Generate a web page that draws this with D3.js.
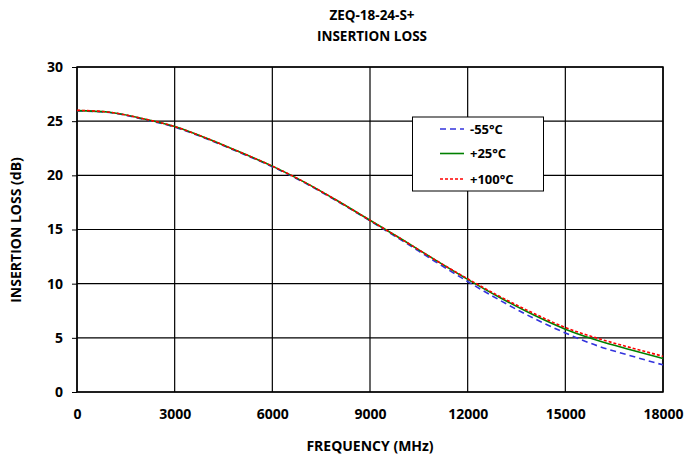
<!DOCTYPE html>
<html><head><meta charset="utf-8">
<script src="https://cdn.jsdelivr.net/npm/d3@7"></script>
<style>
body{margin:0;background:#fff;}
svg{display:block;}
text{font-family:"Open Sans","Liberation Sans",sans-serif;font-weight:bold;fill:#000;}
</style></head>
<body><svg id="chart" width="687" height="460"></svg>
<script>
const title1 = "ZEQ-18-24-S+";
const title2 = "INSERTION LOSS";
const xTitle = "FREQUENCY (MHz)";
const yTitle = "INSERTION LOSS (dB)";
const freq = [0,1000,2000,3000,4000,5000,6000,7000,8000,9000,10000,11000,12000,13000,14000,15000,16000,17000,18000];
const lossM55 = [25.95,25.8,25.2,24.45,23.35,22.1,20.8,19.3,17.6,15.8,13.95,12.05,10.2,8.45,6.85,5.45,4.25,3.35,2.5];
const lossP25 = [25.97,25.82,25.25,24.5,23.4,22.15,20.85,19.35,17.65,15.85,14.05,12.2,10.4,8.7,7.15,5.8,4.75,3.9,3.1];
const lossP100 = [26.0,25.82,25.25,24.5,23.4,22.15,20.85,19.35,17.65,15.85,14.05,12.2,10.45,8.8,7.3,5.95,4.95,4.1,3.3];
const seriesNames = ["-55°C","+25°C","+100°C"];
const xTicks = [0,3000,6000,9000,12000,15000,18000];
const yTicks = [0,5,10,15,20,25,30];

const svg = d3.select("#chart");
const L=77,R=663,T=67,B=392;
const x = d3.scaleLinear().domain([0,18000]).range([L,R]);
const y = d3.scaleLinear().domain([0,30]).range([B,T]);

// grid
svg.append("g").selectAll("line").data(xTicks).join("line")
  .attr("x1",d=>x(d)).attr("x2",d=>x(d)).attr("y1",T).attr("y2",B)
  .attr("stroke","#000").attr("stroke-width",1.2);
svg.append("g").selectAll("line").data(yTicks).join("line")
  .attr("x1",L).attr("x2",R).attr("y1",d=>y(d)).attr("y2",d=>y(d))
  .attr("stroke","#000").attr("stroke-width",1.2);
svg.append("rect").attr("x",L).attr("y",T).attr("width",R-L).attr("height",B-T)
  .attr("fill","none").attr("stroke","#000").attr("stroke-width",1.5);

// axes tick labels
const yAxis = d3.axisLeft(y).tickValues(yTicks).tickSize(5).tickPadding(9);
const gy = svg.append("g").attr("transform",`translate(${L},0)`).call(yAxis);
gy.select(".domain").remove();
gy.selectAll("line").attr("stroke","#000");
gy.selectAll("text").style("font-size","14px").style("font-family",null);
const xAxis = d3.axisBottom(x).tickValues(xTicks).tickSize(0).tickPadding(17).tickFormat(d3.format("d"));
const gx = svg.append("g").attr("transform",`translate(0,${B})`).call(xAxis);
gx.select(".domain").remove();
gx.selectAll("text").style("font-size","14px").style("font-family",null);

// lines
const line = d3.line().x((d,i)=>x(freq[i])).y(d=>y(d)).curve(d3.curveMonotoneX);
const styles = [
  {data:lossM55,color:"#3333dd",dash:"6,4"},
  {data:lossP25,color:"#008000",dash:null},
  {data:lossP100,color:"#ff0000",dash:"3,2"}
];
styles.forEach(s=>{
  svg.append("path").attr("d",line(s.data)).attr("fill","none")
    .attr("stroke",s.color).attr("stroke-width",1.6)
    .attr("stroke-dasharray",s.dash);
});

// legend
const lg = svg.append("g");
lg.append("rect").attr("x",412.5).attr("y",117).attr("width",131).attr("height",74)
  .attr("fill","#fff").attr("stroke","#000").attr("stroke-width",1);
const rowsY=[129,153.5,179];
styles.forEach((s,i)=>{
  lg.append("line").attr("x1",440).attr("x2",464).attr("y1",rowsY[i]).attr("y2",rowsY[i])
    .attr("stroke",s.color).attr("stroke-width",1.6).attr("stroke-dasharray",s.dash);
  lg.append("text").attr("x",470).attr("y",rowsY[i]).attr("dy","0.35em")
    .style("font-size","13px").text(seriesNames[i]);
});

// titles
svg.append("text").attr("x",372).attr("y",20).attr("text-anchor","middle").style("font-size","13.5px").text(title1);
svg.append("text").attr("x",372).attr("y",41).attr("text-anchor","middle").style("font-size","13.5px").text(title2);
svg.append("text").attr("x",370).attr("y",451).attr("text-anchor","middle").style("font-size","14px").text(xTitle);
svg.append("text").attr("transform","translate(21,230) rotate(-90)").attr("text-anchor","middle").style("font-size","14px").text(yTitle);
</script></body></html>
